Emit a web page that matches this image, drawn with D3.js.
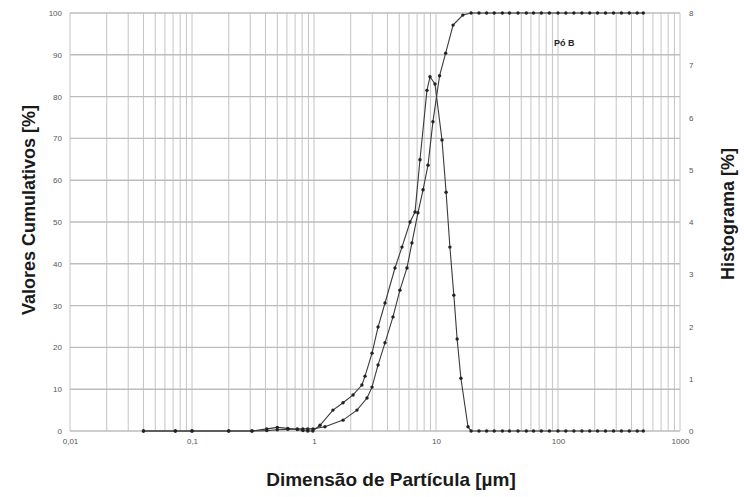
<!DOCTYPE html>
<html>
<head>
<meta charset="utf-8">
<script src="https://cdn.jsdelivr.net/npm/d3@7/dist/d3.min.js"></script>
<style>
  html, body { margin: 0; padding: 0; background: #fff; }
  svg { display: block; font-family: "Liberation Sans", Arial, sans-serif; }
</style>
</head>
<body>
<svg id="chart" width="744" height="497"></svg>
<script>
// Particle size distribution – cumulative curve (left axis) and histogram (right axis)
const cumSizes  = [0.04, 0.073, 0.1, 0.2, 0.31, 0.41, 0.5, 0.61, 0.73, 0.81, 0.89, 0.98,
                   1.23, 1.73, 2.25, 2.72, 2.99, 3.35, 3.82, 4.44, 5.06, 5.78, 6.35, 7.11,
                   7.83, 8.6, 9.44, 10.7, 12.0, 13.8, 16.6, 19.4, 22.5, 26, 30, 35, 40, 47,
                   55, 63, 73, 85, 100, 116, 135, 157, 182, 211, 245, 285, 331, 384, 446, 500];
const cumValues = [0, 0, 0, 0, 0, 0.1, 0.3, 0.4, 0.5, 0.5, 0.5, 0.5,
                   1.0, 2.6, 5.0, 7.9, 10.5, 15.8, 21.1, 27.3, 33.7, 39.0, 45.0, 52.2,
                   57.7, 63.6, 74.0, 85.0, 90.4, 97.1, 99.5, 100, 100, 100, 100, 100, 100, 100,
                   100, 100, 100, 100, 100, 100, 100, 100, 100, 100, 100, 100, 100, 100, 100, 100];

const histSizes  = [0.04, 0.073, 0.1, 0.2, 0.31, 0.41, 0.5, 0.61, 0.73, 0.81, 0.89, 0.98,
                    1.12, 1.43, 1.73, 2.09, 2.47, 2.62, 2.99, 3.35, 3.82, 4.61, 5.26, 6.13,
                    6.73, 7.39, 8.43, 8.93, 9.81, 11.2, 12.1, 13.0, 14.0, 14.9, 16.0, 18.3,
                    19.4, 22.5, 26, 30, 35, 40, 47, 55, 63, 73, 85, 100, 116, 135, 157, 182,
                    211, 245, 285, 331, 384, 446, 500];
const histValues = [0, 0, 0, 0, 0, 0.04, 0.07, 0.05, 0.03, 0.01, 0, 0,
                    0.11, 0.40, 0.54, 0.69, 0.88, 1.05, 1.49, 1.99, 2.45, 3.12, 3.52, 4.00,
                    4.19, 5.19, 6.52, 6.78, 6.64, 5.57, 4.57, 3.52, 2.60, 1.76, 1.01, 0.08,
                    0, 0, 0, 0, 0, 0, 0, 0, 0, 0, 0, 0, 0, 0, 0, 0,
                    0, 0, 0, 0, 0, 0, 0];

const xTickValues = [0.01, 0.1, 1, 10, 100, 1000];
const xTickLabels = ["0,01", "0,1", "1", "10", "100", "1000"];
const leftTicks  = [0, 10, 20, 30, 40, 50, 60, 70, 80, 90, 100];
const rightTicks = [0, 1, 2, 3, 4, 5, 6, 7, 8];

const svg = d3.select("#chart");
const m = { left: 70, right: 680, top: 13, bottom: 431 };

const x = d3.scaleLog().domain([0.01, 1000]).range([m.left, m.right]);
const yL = d3.scaleLinear().domain([0, 100]).range([m.bottom, m.top]);
const yR = d3.scaleLinear().domain([0, 8]).range([m.bottom, m.top]);

// grid: every 1..9 step of each decade, plus 10% lines
const gridX = [];
for (let e = -2; e <= 2; e++) for (let k = 1; k <= 9; k++) gridX.push(k * Math.pow(10, e));
gridX.push(1000);

const grid = svg.append("g");
grid.selectAll("line.gx").data(gridX).join("line")
  .attr("x1", d => x(d)).attr("x2", d => x(d))
  .attr("y1", m.top).attr("y2", m.bottom)
  .attr("stroke", "#c4c4c4").attr("stroke-width", 1);
grid.selectAll("line.gy").data(leftTicks).join("line")
  .attr("x1", m.left).attr("x2", m.right)
  .attr("y1", d => yL(d)).attr("y2", d => yL(d))
  .attr("stroke", "#bdbdbd").attr("stroke-width", 1.4);

// axes
const axL = d3.axisLeft(yL).tickValues(leftTicks).tickSize(0).tickPadding(8);
const axR = d3.axisRight(yR).tickValues(rightTicks).tickSize(0).tickPadding(9);
const axB = d3.axisBottom(x).tickValues(xTickValues).tickSize(0).tickPadding(7)
  .tickFormat((d, i) => xTickLabels[i]);

function styleAxis(g) {
  g.select(".domain").remove();
  g.selectAll("text").attr("fill", "#555").style("font-size", "8px");
}
svg.append("g").attr("transform", `translate(${m.left},0)`).call(axL).call(styleAxis);
svg.append("g").attr("transform", `translate(${m.right},0)`).call(axR).call(styleAxis);
svg.append("g").attr("transform", `translate(0,${m.bottom})`).call(axB).call(styleAxis);

// series
const cumData = cumSizes.map((s, i) => ({ s, v: cumValues[i] }));
const histData = histSizes.map((s, i) => ({ s, v: histValues[i] }));

const lineCum = d3.line().x(d => x(d.s)).y(d => yL(d.v));
const lineHist = d3.line().x(d => x(d.s)).y(d => yR(d.v));

svg.append("path").datum(cumData).attr("d", lineCum)
  .attr("fill", "none").attr("stroke", "#3a3a3a").attr("stroke-width", 1.1);
svg.append("path").datum(histData).attr("d", lineHist)
  .attr("fill", "none").attr("stroke", "#3a3a3a").attr("stroke-width", 1.1);

svg.append("g").selectAll("circle").data(cumData).join("circle")
  .attr("cx", d => x(d.s)).attr("cy", d => yL(d.v)).attr("r", 1.7).attr("fill", "#222");
svg.append("g").selectAll("circle").data(histData).join("circle")
  .attr("cx", d => x(d.s)).attr("cy", d => yR(d.v)).attr("r", 1.7).attr("fill", "#222");

// sample label
svg.append("text").attr("x", 554).attr("y", 46)
  .style("font-size", "9px").style("font-weight", "bold").attr("fill", "#222")
  .text("Pó B");

// axis titles
svg.append("text")
  .attr("transform", "translate(35,210) rotate(-90)")
  .attr("text-anchor", "middle")
  .style("font-size", "18px").style("font-weight", "bold").attr("fill", "#1a1a1a")
  .text("Valores Cumulativos [%]");
svg.append("text")
  .attr("transform", "translate(734,214) rotate(-90)")
  .attr("text-anchor", "middle")
  .style("font-size", "18px").style("font-weight", "bold").attr("fill", "#1a1a1a")
  .text("Histograma [%]");
svg.append("text")
  .attr("x", 391).attr("y", 486)
  .attr("text-anchor", "middle")
  .style("font-size", "19px").style("font-weight", "bold").attr("fill", "#1a1a1a")
  .text("Dimensão de Partícula [µm]");
</script>
</body>
</html>
